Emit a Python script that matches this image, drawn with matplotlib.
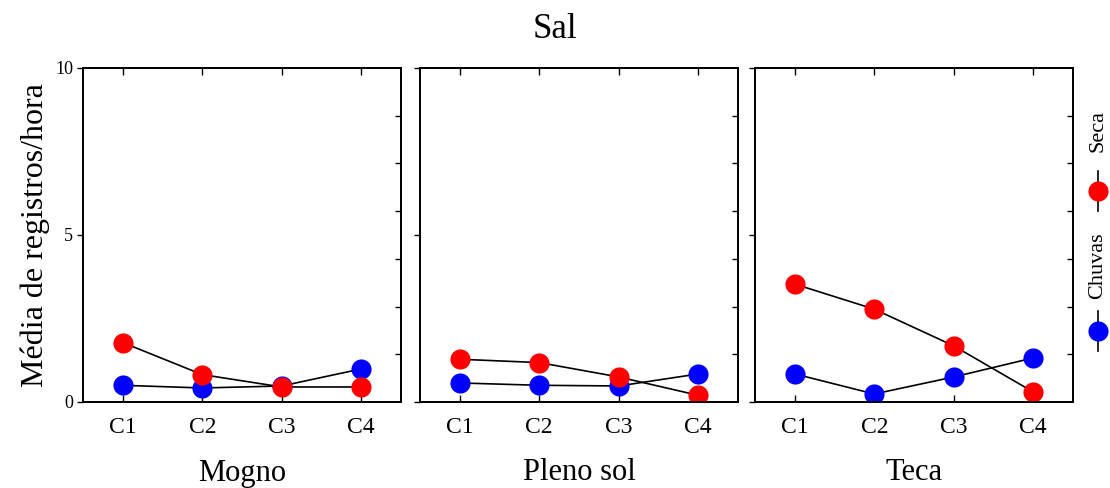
import matplotlib
matplotlib.use("Agg")
import matplotlib.pyplot as plt
from matplotlib.lines import Line2D
import numpy as np

plt.rcParams['font.family'] = ['Liberation Serif', 'DejaVu Serif']

categories = ["C1", "C2", "C3", "C4"]
panels = ["Mogno", "Pleno sol", "Teca"]
seca = {
    "Mogno": [1.78, 0.82, 0.45, 0.45],
    "Pleno sol": [1.28, 1.18, 0.75, 0.2],
    "Teca": [3.53, 2.78, 1.68, 0.3],
}
chuvas = {
    "Mogno": [0.5, 0.42, 0.48, 0.99],
    "Pleno sol": [0.57, 0.5, 0.48, 0.84],
    "Teca": [0.84, 0.24, 0.75, 1.32],
}
yticks = [0, 5, 10]
title = "Sal"
ylabel = "Média de registros/hora"

W, H = 1110, 488
fig = plt.figure(figsize=(W / 100, H / 100), dpi=100)

lefts = [83, 420, 755]
pw = 318
top, bottom = 68, 402
ms = 14.5
x = np.arange(len(categories))

for name, lp in zip(panels, lefts):
    ax = fig.add_axes([lp / W, 1 - bottom / H, pw / W, (bottom - top) / H])
    ax.plot(x, chuvas[name], color='black', lw=1.2, zorder=2)
    ax.plot(x, seca[name], color='black', lw=1.2, zorder=2)
    ax.plot(x, chuvas[name], 'o', color='#0000ff', ms=ms, mec='none', zorder=3)
    ax.plot(x, seca[name], 'o', color='#ff0000', ms=ms, mec='none', zorder=4)
    ax.set_xlim(-0.5, 3.5)
    ax.set_ylim(0, 10)
    ax.set_xticks(x)
    ax.set_xticklabels(categories, fontsize=17)
    ax.set_yticks(yticks)
    if lp == lefts[0]:
        ax.set_yticklabels([str(v) for v in yticks], fontsize=13)
    else:
        ax.set_yticklabels([])
    ax.tick_params(axis='x', direction='in', top=True, length=5, width=1, pad=11)
    ax.tick_params(axis='y', direction='out', right=False, length=4, width=1, pad=3)
    tw = ax.twinx()
    tw.set_ylim(0, 10)
    tw.set_yticks(np.arange(1, 7) * 10 / 7)
    tw.set_yticklabels([])
    tw.tick_params(axis='y', direction='in', length=4, width=1)
    for a in (ax, tw):
        for s in a.spines.values():
            s.set_linewidth(1.3)
    fig.text((lp + pw / 2) / W, 1 - 473 / H, name, ha='center', va='center', fontsize=22)

fig.text(0.5, 1 - 30 / H, title, ha='center', va='center', fontsize=25)
fig.text(35 / W, 1 - 235 / H, ylabel, rotation=90, ha='center', va='center', fontsize=23)

# legend (rotated entries)
legend_items = [("Seca", '#ff0000', 191, 131), ("Chuvas", '#0000ff', 331, 266)]
lx = 1098
for lab, col, my, ty in legend_items:
    fig.add_artist(Line2D([lx / W, lx / W], [1 - (my - 20) / H, 1 - (my + 20) / H],
                          transform=fig.transFigure, color='black', lw=1.2))
    fig.add_artist(Line2D([lx / W], [1 - my / H], transform=fig.transFigure,
                          marker='o', color=col, ms=ms, mec='none', ls='none'))
    fig.text(lx / W, 1 - ty / H, lab, rotation=90, ha='center', va='center', fontsize=16)

fig.savefig("out.png", dpi=100)
